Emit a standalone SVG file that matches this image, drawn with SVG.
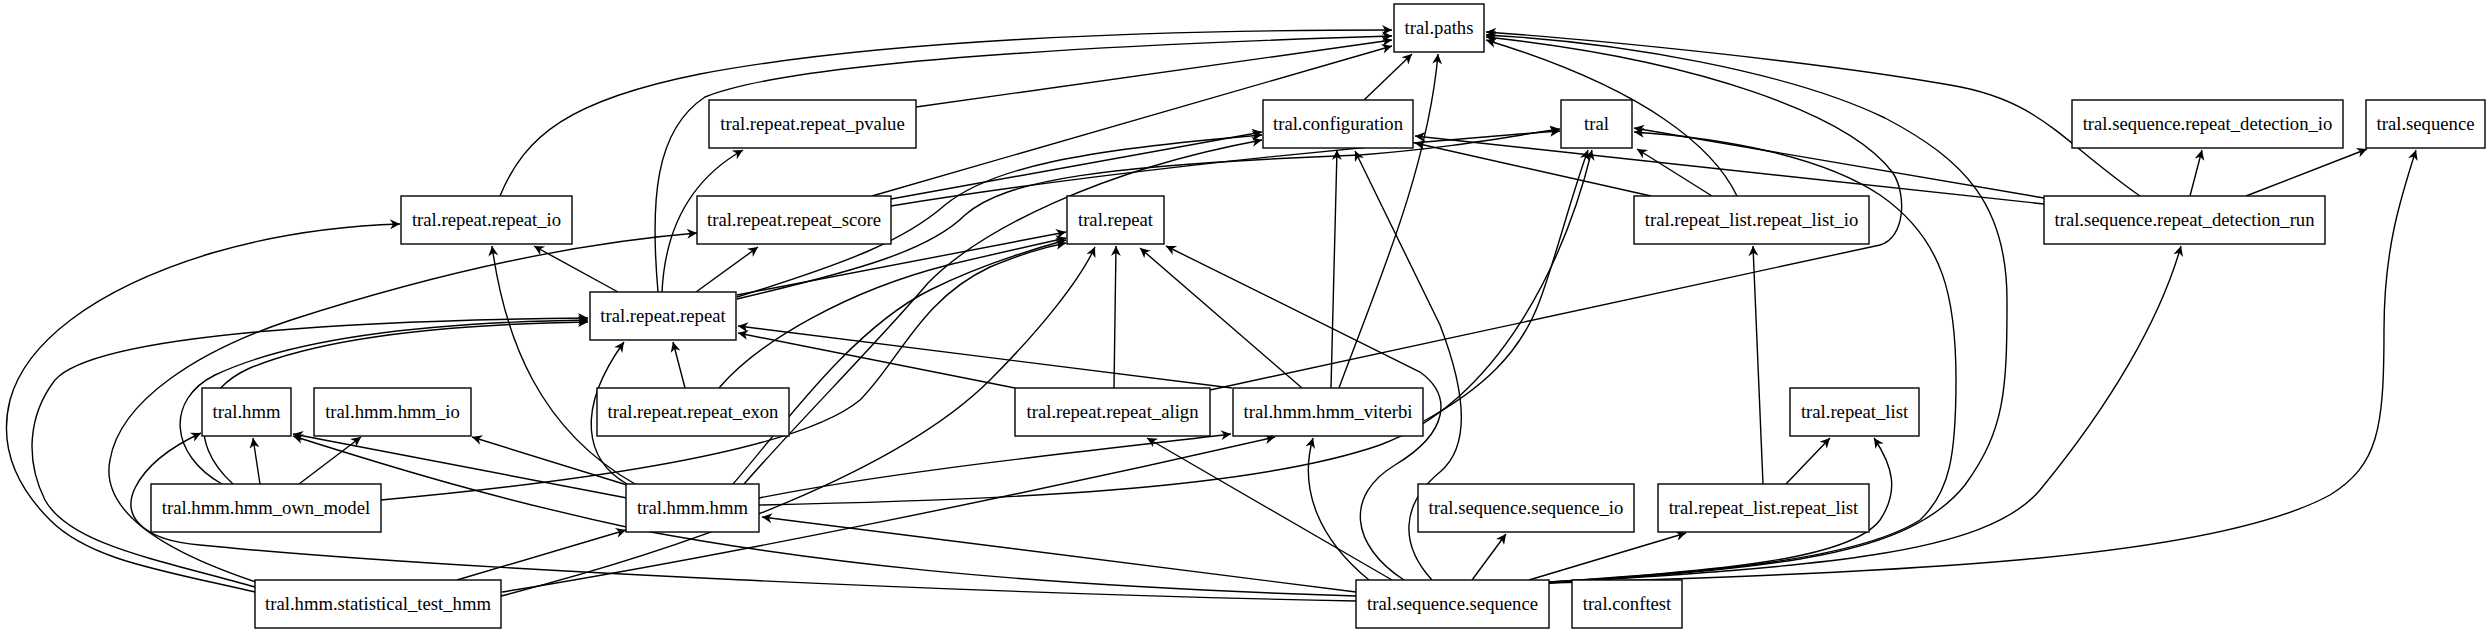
<svg xmlns="http://www.w3.org/2000/svg" width="2492" height="635" viewBox="0 0 2492 635">
<style>
.n rect{fill:#fff;stroke:#000;stroke-width:1.4}
.n text{font-family:"Liberation Serif","Times New Roman",serif;font-size:18.67px;text-anchor:middle;fill:#000}
#edges path{fill:none;stroke:#000;stroke-width:1.4;marker-end:url(#ah)}
</style>
<defs>
<marker id="ah" viewBox="0 0 10 10" refX="10" refY="5" markerWidth="13" markerHeight="10" markerUnits="userSpaceOnUse" orient="auto"><path d="M0,0 L10,5 L0,10 L3,5 z" fill="#000"/></marker>
</defs>
<rect width="2492" height="635" fill="#fff"/>
<g id="edges">
<path d="M500,196 C525,135 570,100 700,74 C880,40 1150,30 1392,30"/>
<path d="M658,292 C650,200 655,130 705,97 C790,62 1100,45 1392,36"/>
<path d="M916,107 L1392,40"/>
<path d="M872,196 L1392,46"/>
<path d="M1364,100 L1412,54"/>
<path d="M1339,388 C1375,290 1428,170 1438,54"/>
<path d="M1737,196 C1715,150 1650,90 1486,40"/>
<path d="M2140,196 C2060,140 2040,100 1950,85 C1820,62 1600,40 1486,32"/>
<path d="M1549,583 C1760,568 1905,560 1965,485 C2005,430 2007,390 2007,300 C2007,205 1965,160 1885,118 C1790,72 1620,42 1486,35"/>
<path d="M1549,582 C1720,572 1860,558 1920,520 C1950,492 1956,455 1956,380 C1956,300 1945,240 1880,195 C1820,155 1720,138 1634,132"/>
<path d="M1210,390 L1880,245 C1905,238 1907,195 1893,173 C1850,115 1700,60 1486,37"/>
<path d="M2044,198 L1634,128"/>
<path d="M2044,204 L1415,136"/>
<path d="M2190,196 L2202,150"/>
<path d="M2246,196 L2367,149"/>
<path d="M1651,196 L1415,143"/>
<path d="M1712,196 L1637,149"/>
<path d="M1763,484 L1753,246"/>
<path d="M1786,484 L1830,438"/>
<path d="M1549,582 C1720,570 1850,560 1880,520 C1900,490 1892,465 1874,438"/>
<path d="M1472,580 L1506,534"/>
<path d="M1529,580 L1686,533"/>
<path d="M1549,583 C1820,566 1985,555 2040,490 C2110,405 2160,320 2181,246"/>
<path d="M1549,583 C1900,572 2210,560 2330,495 C2378,465 2384,430 2384,330 C2384,250 2400,200 2416,150"/>
<path d="M1369,580 C1320,540 1298,490 1313,438"/>
<path d="M1392,580 L1147,438"/>
<path d="M1404,580 C1350,545 1345,495 1395,465 C1450,432 1452,395 1420,372 L1166,246"/>
<path d="M1432,580 C1400,545 1400,505 1440,472 C1472,445 1465,390 1440,325 L1355,151"/>
<path d="M1356,592 L762,517"/>
<path d="M1356,601 C1000,594 450,570 200,545 C140,540 122,515 135,488 C148,462 175,445 201,433"/>
<path d="M1356,596 C1000,585 800,560 640,530 C500,500 400,470 293,436"/>
<path d="M627,498 L293,434"/>
<path d="M260,484 L253,438"/>
<path d="M299,484 L361,437"/>
<path d="M627,485 L472,437"/>
<path d="M635,484 C540,430 505,340 492,246"/>
<path d="M627,484 C585,460 575,410 624,342"/>
<path d="M759,498 C900,470 1100,450 1231,434"/>
<path d="M759,505 C1000,500 1250,490 1380,445 C1500,400 1565,260 1592,150"/>
<path d="M733,484 C780,430 850,330 930,290 C980,265 1030,250 1066,240"/>
<path d="M744,484 C800,420 880,340 928,283 C980,230 1100,170 1262,140"/>
<path d="M457,580 L626,530"/>
<path d="M502,592 C700,560 1000,500 1275,437"/>
<path d="M255,592 C160,570 90,560 50,520 C10,480 0,440 10,400 C25,345 90,290 212,253 C280,233 340,226 400,224"/>
<path d="M255,587 C160,560 70,545 45,500 C25,460 28,415 55,380 C100,330 400,320 588,318"/>
<path d="M256,582 C160,550 100,510 110,460 C120,400 200,350 291,320 C400,285 550,245 697,233"/>
<path d="M222,484 C170,455 165,400 215,375 C300,335 450,322 588,320"/>
<path d="M233,484 C185,440 200,390 250,368 C330,335 460,324 588,322"/>
<path d="M381,500 C600,480 800,450 860,400 C900,360 920,300 990,267 C1020,255 1040,248 1066,243"/>
<path d="M685,388 L673,342"/>
<path d="M719,388 C760,340 850,290 948,265 C990,255 1030,246 1066,238"/>
<path d="M1015,388 L738,333"/>
<path d="M1232,388 L738,326"/>
<path d="M1114,388 L1116,246"/>
<path d="M1302,388 L1140,248"/>
<path d="M618,292 L534,246"/>
<path d="M696,292 L758,247"/>
<path d="M662,292 C665,230 690,180 743,150"/>
<path d="M737,295 L1066,232"/>
<path d="M737,297 C850,262 905,240 945,205 C990,168 1080,150 1262,135"/>
<path d="M737,299 C860,270 930,250 965,215 C1005,180 1100,165 1360,155 C1450,148 1500,138 1560,129"/>
<path d="M891,199 L1262,132"/>
<path d="M891,206 C1050,180 1300,150 1560,131"/>
<path d="M501,596 C700,545 900,470 990,380 C1040,330 1080,280 1095,247"/>
<path d="M1331,388 L1337,150"/>
<path d="M1424,421 C1480,390 1520,355 1540,300 C1555,260 1570,200 1588,150"/>
</g>
<g id="n_paths" class="n"><rect x="1394" y="4" width="90" height="48"/><text x="1439" y="34" font-family="Liberation Serif, serif">tral.paths</text></g>
<g id="n_repeat_pvalue" class="n"><rect x="709" y="100" width="207" height="48"/><text x="812.5" y="130" font-family="Liberation Serif, serif">tral.repeat.repeat_pvalue</text></g>
<g id="n_configuration" class="n"><rect x="1263" y="100" width="150" height="48"/><text x="1338" y="130" font-family="Liberation Serif, serif">tral.configuration</text></g>
<g id="n_tral" class="n"><rect x="1561" y="100" width="71" height="48"/><text x="1596.5" y="130" font-family="Liberation Serif, serif">tral</text></g>
<g id="n_repeat_detection_io" class="n"><rect x="2072" y="100" width="271" height="48"/><text x="2207.5" y="130" font-family="Liberation Serif, serif">tral.sequence.repeat_detection_io</text></g>
<g id="n_sequence" class="n"><rect x="2366" y="100" width="119" height="48"/><text x="2425.5" y="130" font-family="Liberation Serif, serif">tral.sequence</text></g>
<g id="n_repeat_io" class="n"><rect x="401" y="196" width="171" height="48"/><text x="486.5" y="226" font-family="Liberation Serif, serif">tral.repeat.repeat_io</text></g>
<g id="n_repeat_score" class="n"><rect x="697" y="196" width="194" height="48"/><text x="794" y="226" font-family="Liberation Serif, serif">tral.repeat.repeat_score</text></g>
<g id="n_repeat" class="n"><rect x="1067" y="196" width="97" height="48"/><text x="1115.5" y="226" font-family="Liberation Serif, serif">tral.repeat</text></g>
<g id="n_repeat_list_io" class="n"><rect x="1634" y="196" width="235" height="48"/><text x="1751.5" y="226" font-family="Liberation Serif, serif">tral.repeat_list.repeat_list_io</text></g>
<g id="n_repeat_detection_run" class="n"><rect x="2044" y="196" width="281" height="48"/><text x="2184.5" y="226" font-family="Liberation Serif, serif">tral.sequence.repeat_detection_run</text></g>
<g id="n_repeat_repeat" class="n"><rect x="590" y="292" width="146" height="48"/><text x="663" y="322" font-family="Liberation Serif, serif">tral.repeat.repeat</text></g>
<g id="n_hmm" class="n"><rect x="202" y="388" width="89" height="48"/><text x="246.5" y="418" font-family="Liberation Serif, serif">tral.hmm</text></g>
<g id="n_hmm_io" class="n"><rect x="314" y="388" width="157" height="48"/><text x="392.5" y="418" font-family="Liberation Serif, serif">tral.hmm.hmm_io</text></g>
<g id="n_repeat_exon" class="n"><rect x="597" y="388" width="192" height="48"/><text x="693" y="418" font-family="Liberation Serif, serif">tral.repeat.repeat_exon</text></g>
<g id="n_repeat_align" class="n"><rect x="1015" y="388" width="195" height="48"/><text x="1112.5" y="418" font-family="Liberation Serif, serif">tral.repeat.repeat_align</text></g>
<g id="n_hmm_viterbi" class="n"><rect x="1233" y="388" width="190" height="48"/><text x="1328" y="418" font-family="Liberation Serif, serif">tral.hmm.hmm_viterbi</text></g>
<g id="n_repeat_list" class="n"><rect x="1790" y="388" width="129" height="48"/><text x="1854.5" y="418" font-family="Liberation Serif, serif">tral.repeat_list</text></g>
<g id="n_hmm_own_model" class="n"><rect x="151" y="484" width="230" height="48"/><text x="266" y="514" font-family="Liberation Serif, serif">tral.hmm.hmm_own_model</text></g>
<g id="n_hmm_hmm" class="n"><rect x="626" y="484" width="133" height="48"/><text x="692.5" y="514" font-family="Liberation Serif, serif">tral.hmm.hmm</text></g>
<g id="n_sequence_io" class="n"><rect x="1418" y="484" width="216" height="48"/><text x="1526" y="514" font-family="Liberation Serif, serif">tral.sequence.sequence_io</text></g>
<g id="n_repeat_list_repeat_list" class="n"><rect x="1658" y="484" width="211" height="48"/><text x="1763.5" y="514" font-family="Liberation Serif, serif">tral.repeat_list.repeat_list</text></g>
<g id="n_statistical_test_hmm" class="n"><rect x="255" y="580" width="246" height="48"/><text x="378" y="610" font-family="Liberation Serif, serif">tral.hmm.statistical_test_hmm</text></g>
<g id="n_sequence_sequence" class="n"><rect x="1356" y="580" width="193" height="48"/><text x="1452.5" y="610" font-family="Liberation Serif, serif">tral.sequence.sequence</text></g>
<g id="n_conftest" class="n"><rect x="1572" y="580" width="110" height="48"/><text x="1627" y="610" font-family="Liberation Serif, serif">tral.conftest</text></g>
</svg>
